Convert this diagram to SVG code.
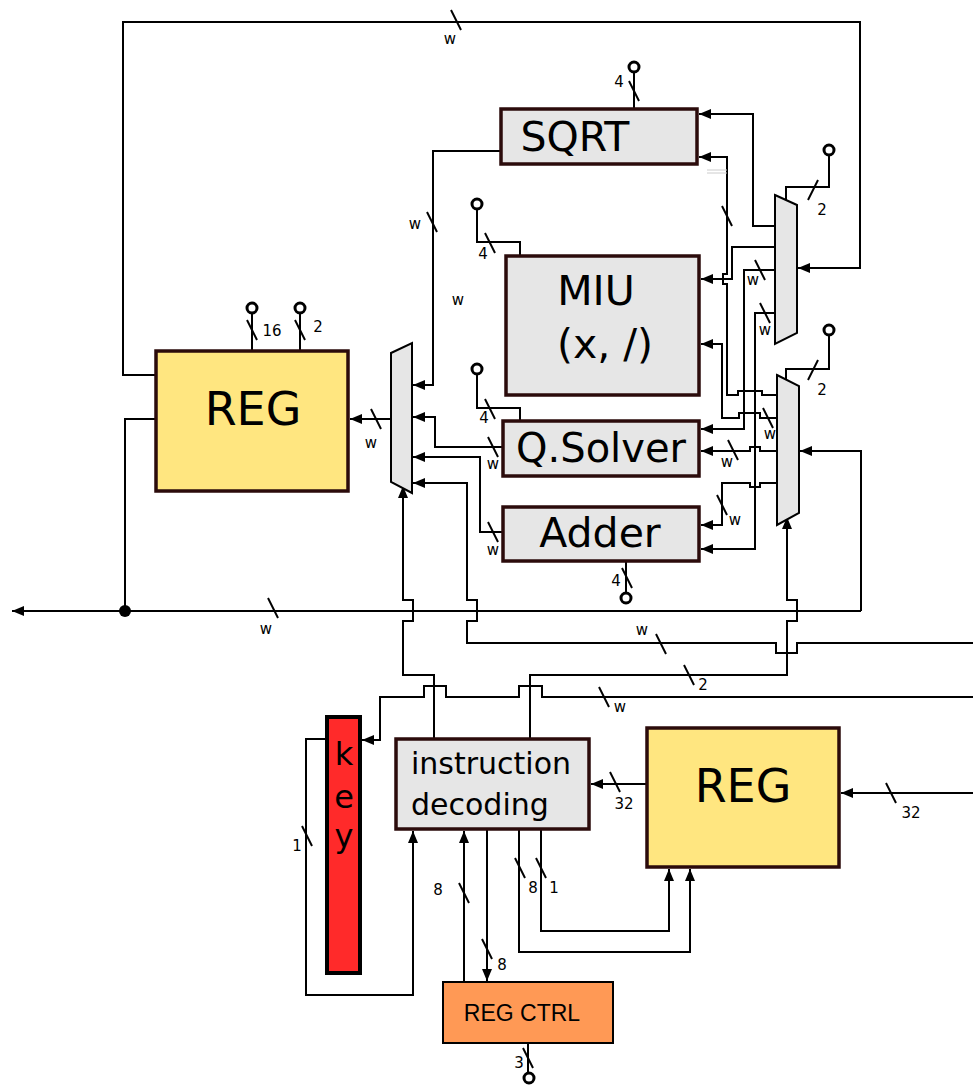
<svg xmlns="http://www.w3.org/2000/svg" width="973" height="1085" viewBox="0 0 973 1085">
<defs>
<marker id="arr" viewBox="0 0 12 10" refX="12" refY="5" markerWidth="12" markerHeight="10" markerUnits="userSpaceOnUse" orient="auto">
<path d="M0,0 L12,5 L0,10 z" fill="#000"/>
</marker>
<style>
.w{fill:none;stroke:#000;stroke-width:2}
.a{fill:none;stroke:#000;stroke-width:2;marker-end:url(#arr)}
.s{stroke:#000;stroke-width:2}
.pin{fill:#fff;stroke:#000;stroke-width:3}
.blk{fill:#e6e6e6;stroke:#2b0b0b;stroke-width:3.5}
.reg{fill:#ffe680;stroke:#2b0b0b;stroke-width:3.5}
.mux{fill:#e6e6e6;stroke:#000;stroke-width:2}
.big{font-family:"DejaVu Sans",sans-serif;fill:#000}
.lbl{font-family:"DejaVu Sans",sans-serif;font-size:15px;fill:#000;text-anchor:middle}
</style>
</defs>
<rect width="973" height="1085" fill="#fff"/>

<g id="connectors">
<!-- feedback top -->
<path class="a" d="M156,375 H123 V22 H860 V268 H798"/>
<!-- bus -->
<path class="w" d="M156,419 H125 V611"/>
<path class="a" d="M861,611 H12"/>
<path class="a" d="M861,611 V451 H800"/>
<circle cx="125" cy="611" r="6" fill="#000"/>
<!-- unit outputs to left mux -->
<path class="a" d="M501,151 H433 V385 H413"/>
<path class="a" d="M503,447 H435 V417 H413"/>
<path class="a" d="M503,532 H480 V457 H413"/>
<path class="a" d="M975,643 H797 V653 H776 V643 H467 V621 H477 V600 H467 V483 H413"/>
<path class="a" d="M391,419 H350"/>
<!-- left mux select -->
<path class="a" d="M434,739 V675 H403 V621 H413 V600 H403 V486"/>
<!-- lower right mux select from decoder -->
<path class="a" d="M530,739 V675 H787 V621 H797 V600 H787 V517"/>
<!-- key input -->
<path class="a" d="M975,697 H542 V686 H519 V697 H446 V686 H424 V697 H380 V740 H362"/>
<!-- REG right -->
<path class="a" d="M975,793 H841"/>
<path class="a" d="M647,784 H591"/>
<!-- decoder bottom -->
<path class="a" d="M464,982 V831"/>
<path class="a" d="M487,829 V981"/>
<path class="a" d="M519,829 V952 H690 V869"/>
<path class="a" d="M541,829 V931 H669 V869"/>
<path class="a" d="M327,739 H306 V995 H413 V831"/>
<!-- pins -->
<path class="w" d="M528,1043 V1073"/>
<path class="w" d="M626,561 V593"/>
<path class="w" d="M634,72 V109"/>
<path class="w" d="M477,209 V242 H520 V256"/>
<path class="w" d="M477,374 V408 H520 V421"/>
<path class="w" d="M252,313 V351"/>
<path class="w" d="M300,313 V351"/>
<path class="w" d="M786,200 V187 H829 V155"/>
<path class="w" d="M786,380 V369 H829 V335"/>
<!-- right mux outputs -->
<path class="a" d="M775,226 H753 V114 H699"/>
<path class="a" d="M775,247 H732 V279 H701"/>
<path class="a" d="M775,270 H744 V429 H701"/>
<path class="a" d="M775,313 H755 V549 H701"/>
<path class="a" d="M777,395 H762 V391 H738 V395 H727 V284 H723 V274 H727 V157 H699"/>
<path class="a" d="M777,418 H760 V413 H739 V418 H722 V344 H701"/>
<path class="a" d="M777,451 H760 V447 H750 V451 H701"/>
<path class="a" d="M777,483 H760 V487 H750 V483 H722 V525 H701"/>
<path d="M707,170 H727 M707,173 H727" stroke="#ccc" stroke-width="1" fill="none"/>
<!-- bus width slashes -->
<g class="s">
<line x1="451" y1="10" x2="461" y2="30"/>
<line x1="629" y1="81" x2="639" y2="101"/>
<line x1="808" y1="200" x2="818" y2="180"/>
<line x1="427" y1="212" x2="437" y2="232"/>
<line x1="485" y1="233" x2="495" y2="253"/>
<line x1="755" y1="260" x2="765" y2="280"/>
<line x1="760" y1="303" x2="770" y2="323"/>
<line x1="247" y1="320" x2="257" y2="340"/>
<line x1="295" y1="320" x2="305" y2="340"/>
<line x1="722" y1="206" x2="732" y2="226"/>
<line x1="808" y1="380" x2="818" y2="360"/>
<line x1="485" y1="399" x2="495" y2="419"/>
<line x1="371" y1="409" x2="381" y2="429"/>
<line x1="763" y1="408" x2="773" y2="428"/>
<line x1="488" y1="437" x2="498" y2="457"/>
<line x1="728" y1="440" x2="738" y2="460"/>
<line x1="717" y1="495" x2="727" y2="515"/>
<line x1="488" y1="522" x2="498" y2="542"/>
<line x1="622" y1="568" x2="632" y2="588"/>
<line x1="268" y1="598" x2="278" y2="618"/>
<line x1="656" y1="634" x2="666" y2="654"/>
<line x1="684" y1="665" x2="694" y2="685"/>
<line x1="599" y1="687" x2="609" y2="707"/>
<line x1="610" y1="772" x2="620" y2="792"/>
<line x1="886" y1="783" x2="896" y2="803"/>
<line x1="302" y1="826" x2="312" y2="846"/>
<line x1="459" y1="883" x2="469" y2="903"/>
<line x1="482" y1="939" x2="492" y2="959"/>
<line x1="515" y1="858" x2="525" y2="878"/>
<line x1="536" y1="858" x2="546" y2="878"/>
<line x1="523" y1="1048" x2="533" y2="1068"/>
</g>
<g>
<text class="lbl" x="450" y="44">w</text>
<text class="lbl" x="619" y="87">4</text>
<text class="lbl" x="822" y="215">2</text>
<text class="lbl" x="415" y="229">w</text>
<text class="lbl" x="483" y="259">4</text>
<text class="lbl" x="458" y="305">w</text>
<text class="lbl" x="753" y="285">w</text>
<text class="lbl" x="272" y="336">16</text>
<text class="lbl" x="318" y="332">2</text>
<text class="lbl" x="765" y="335">w</text>
<text class="lbl" x="822" y="395">2</text>
<text class="lbl" x="484" y="423">4</text>
<text class="lbl" x="371" y="448">w</text>
<text class="lbl" x="770" y="439">w</text>
<text class="lbl" x="493" y="469">w</text>
<text class="lbl" x="727" y="467">w</text>
<text class="lbl" x="735" y="525">w</text>
<text class="lbl" x="493" y="555">w</text>
<text class="lbl" x="616" y="586">4</text>
<text class="lbl" x="266" y="634">w</text>
<text class="lbl" x="642" y="635">w</text>
<text class="lbl" x="703" y="690">2</text>
<text class="lbl" x="620" y="712">w</text>
<text class="lbl" x="624" y="809">32</text>
<text class="lbl" x="911" y="818">32</text>
<text class="lbl" x="297" y="851">1</text>
<text class="lbl" x="438" y="895">8</text>
<text class="lbl" x="533" y="893">8</text>
<text class="lbl" x="554" y="893">1</text>
<text class="lbl" x="502" y="970">8</text>
<text class="lbl" x="519" y="1068">3</text>
</g>
</g>

<g id="pins">
<circle class="pin" cx="634" cy="67" r="5"/>
<circle class="pin" cx="829" cy="150" r="5"/>
<circle class="pin" cx="829" cy="330" r="5"/>
<circle class="pin" cx="477" cy="204" r="5"/>
<circle class="pin" cx="477" cy="369" r="5"/>
<circle class="pin" cx="252" cy="308" r="5"/>
<circle class="pin" cx="300" cy="308" r="5"/>
<circle class="pin" cx="626" cy="598" r="5"/>
<circle class="pin" cx="529" cy="1078" r="5"/>
</g>

<g id="mux-left"><polygon class="mux" points="391,353 412,343 412,493 391,482"/></g>
<g id="mux-right-upper"><polygon class="mux" points="775,195 797,205 797,333 775,344"/></g>
<g id="mux-right-lower"><polygon class="mux" points="777,375 799,386 799,513 777,525"/></g>

<g id="sqrt">
<rect class="blk" x="501" y="109" width="196" height="55"/>
<text class="big" x="575" y="151" font-size="41" text-anchor="middle">SQRT</text>
</g>
<g id="miu">
<rect class="blk" x="506" y="256" width="193" height="139"/>
<text class="big" x="596" y="305" font-size="41" text-anchor="middle">MIU</text>
<text class="big" x="605" y="358" font-size="41" text-anchor="middle">(x, /)</text>
</g>
<g id="qsolver">
<rect class="blk" x="503" y="421" width="196" height="55"/>
<text class="big" x="601" y="462" font-size="40" text-anchor="middle">Q.Solver</text>
</g>
<g id="adder">
<rect class="blk" x="503" y="507" width="196" height="54"/>
<text class="big" x="600" y="547" font-size="41" text-anchor="middle">Adder</text>
</g>
<g id="reg-left">
<rect class="reg" x="156" y="351" width="192" height="140"/>
<text class="big" x="253" y="425" font-size="46" text-anchor="middle">REG</text>
</g>
<g id="reg-right">
<rect class="reg" x="647" y="728" width="192" height="139"/>
<text class="big" x="743" y="802" font-size="46" text-anchor="middle">REG</text>
</g>
<g id="decoder">
<rect class="blk" x="396" y="739" width="193" height="90"/>
<text class="big" x="411" y="774" font-size="30">instruction</text>
<text class="big" x="411" y="815" font-size="30">decoding</text>
</g>
<g id="key">
<rect x="327" y="717" width="33" height="256" fill="#ff2a2a" stroke="#000" stroke-width="4"/>
<text class="big" x="344" y="765" font-size="32" text-anchor="middle">k</text>
<text class="big" x="344" y="808" font-size="32" text-anchor="middle">e</text>
<text class="big" x="344" y="847" font-size="32" text-anchor="middle">y</text>
</g>
<g id="regctrl">
<rect x="443" y="982" width="170" height="61" fill="#ff9955" stroke="#000" stroke-width="2"/>
<text x="522" y="1021" font-family="Liberation Sans, Arial, sans-serif" font-size="23" text-anchor="middle" fill="#000">REG CTRL</text>
</g>
</svg>
